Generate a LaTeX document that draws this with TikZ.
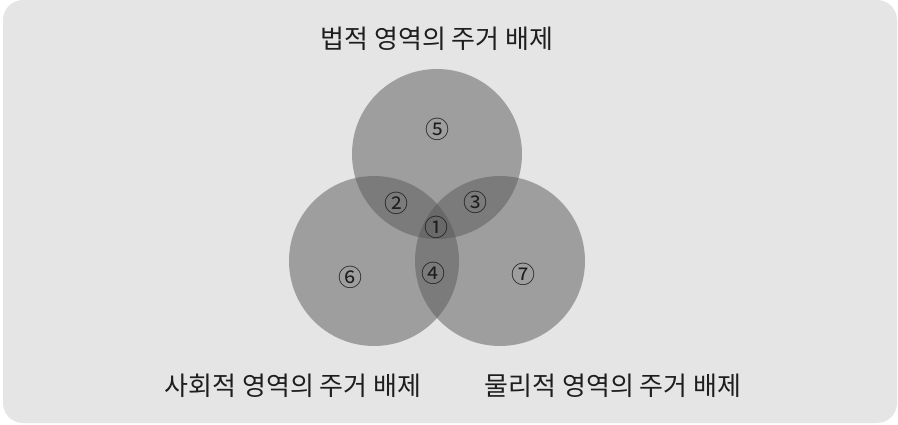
\documentclass[tikz,border=0pt]{standalone}
\usepackage{fontspec}
\setmainfont{Noto Sans CJK KR}
\newfontfamily\kr{Noto Sans CJK KR}
\definecolor{bgc}{RGB}{229,229,229}
\definecolor{setc}{RGB}{89,89,89}
\definecolor{txtc}{RGB}{30,30,30}
\begin{document}
\begin{tikzpicture}[x=1pt,y=-1pt,
  setcircle/.style={circle,fill=setc,fill opacity=0.5,minimum size=170pt,inner sep=0pt},
  title/.style={font=\kr\fontsize{26}{30}\selectfont,text=txtc,inner sep=0pt},
  num/.style={font=\kr\fontsize{24}{28}\selectfont,text=txtc,inner sep=0pt}]
\useasboundingbox (0,0) rectangle (898,425);
\fill[white] (0,0) rectangle (898,425);
\fill[bgc,rounded corners=20pt] (3,0) rectangle (897,423);
\node[setcircle] (legal) at (437,154) {};
\node[setcircle] (social) at (374,261) {};
\node[setcircle] (physical) at (500,261) {};
\node[title] (tlegal) at (437,39) {법적 영역의 주거 배제};
\node[title] (tsocial) at (293,386) {사회적 영역의 주거 배제};
\node[title] (tphysical) at (613,386) {물리적 영역의 주거 배제};
\node[num] (n5) at (437,129) {⑤};
\node[num] (n2) at (396,203) {②};
\node[num] (n3) at (475,202) {③};
\node[num] (n1) at (436,227) {①};
\node[num] (n4) at (433,273) {④};
\node[num] (n6) at (350,277) {⑥};
\node[num] (n7) at (523,274) {⑦};
\end{tikzpicture}
\end{document}
